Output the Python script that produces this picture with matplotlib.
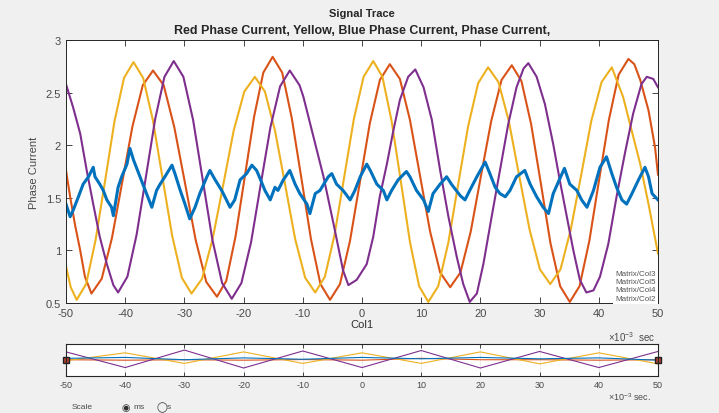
import matplotlib
matplotlib.use("Agg")
import matplotlib.pyplot as plt

plt.rcParams['font.family'] = ['Liberation Sans', 'DejaVu Sans']
plt.rcParams['mathtext.fontset'] = 'custom'
plt.rcParams['mathtext.rm'] = 'Liberation Sans'
plt.rcParams['axes.unicode_minus'] = False

# yellow trace (Matrix/Col3)
t_yellow = [-50, -49.2, -48.2, -46.6, -45.0, -43.4, -41.8, -40.2, -38.6, -36.97, -35.33, -33.7, -32.07,
            -30.43, -28.8, -27.02, -25.23, -23.45, -21.67, -19.88, -18.1, -16.4, -14.7, -13.0, -11.3, -9.6,
            -7.9, -6.27, -4.63, -3.0, -1.37, 0.27, 1.9, 3.45, 5.0, 6.55, 8.1, 9.65, 11.2, 12.88, 14.57,
            16.25, 17.93, 19.62, 21.3, 23.05, 24.8, 26.55, 28.3, 30.05, 31.8, 33.53, 35.27, 37.0, 38.73,
            40.47, 42.2, 44.1, 45.55, 47.0, 48.4, 50]
v_yellow = [0.85, 0.65, 0.53, 0.68, 1.10, 1.66, 2.23, 2.64, 2.79, 2.64, 2.24, 1.69, 1.14, 0.74, 0.59,
            0.73, 1.11, 1.62, 2.14, 2.51, 2.65, 2.51, 2.14, 1.63, 1.11, 0.74, 0.60, 0.75, 1.15, 1.70, 2.25,
            2.65, 2.80, 2.65, 2.23, 1.66, 1.08, 0.66, 0.51, 0.66, 1.07, 1.63, 2.18, 2.59, 2.74, 2.60, 2.23,
            1.71, 1.20, 0.82, 0.68, 0.82, 1.20, 1.71, 2.23, 2.60, 2.74, 2.46, 2.14, 1.82, 1.44, 0.97]

# orange trace (Matrix/Col5)
t_orange = [-50, -49.3, -48.5, -47.6, -46.8, -45.7, -43.97, -42.23, -40.5, -38.77, -37.03, -35.3, -33.5,
            -31.7, -29.9, -28.1, -26.3, -24.5, -22.93, -21.37, -19.8, -18.23, -16.67, -15.1, -13.48, -11.87,
            -10.25, -8.63, -7.02, -5.4, -3.72, -2.03, -0.35, 1.33, 3.02, 4.7, 6.4, 8.1, 9.8, 11.5, 13.2,
            14.9, 16.63, 18.37, 20.1, 21.83, 23.57, 25.3, 26.93, 28.57, 30.2, 31.83, 33.47, 35.1, 36.75,
            38.4, 40.05, 41.7, 43.35, 45.0, 46.0, 47.0, 48.4, 49.5, 50]
v_orange = [1.76, 1.51, 1.25, 1.00, 0.75, 0.59, 0.73, 1.12, 1.65, 2.18, 2.57, 2.71, 2.57, 2.17, 1.64,
            1.10, 0.70, 0.56, 0.71, 1.13, 1.70, 2.27, 2.69, 2.84, 2.69, 2.26, 1.69, 1.11, 0.68, 0.53, 0.68,
            1.09, 1.65, 2.21, 2.62, 2.77, 2.63, 2.24, 1.71, 1.18, 0.79, 0.65, 0.79, 1.18, 1.71, 2.23, 2.62,
            2.76, 2.61, 2.20, 1.64, 1.07, 0.66, 0.51, 0.66, 1.09, 1.67, 2.24, 2.67, 2.82, 2.77, 2.62, 2.33,
            1.98, 1.72]

# purple trace (Matrix/Col4)
t_purple = [-50, -48.8, -47.6, -46.5, -45.4, -44.3, -43.1, -42.0, -41.2, -39.63, -38.07, -36.5, -34.93,
            -33.37, -31.8, -30.17, -28.53, -26.9, -25.27, -23.63, -22.0, -20.37, -18.73, -17.1, -15.47,
            -13.83, -12.2, -10.55, -9.9, -8.2, -6.5, -4.8, -3.2, -2.3, -0.9, 0.8, 1.9, 3.0, 4.2, 5.3, 6.4,
            7.8, 9.0, 10.4, 11.8, 13.2, 14.6, 16.0, 17.1, 18.2, 19.4, 20.5, 21.9, 23.3, 24.7, 26.1, 27.3,
            28.1, 29.5, 30.9, 32.3, 33.5, 34.6, 35.7, 36.8, 37.9, 39.1, 40.2, 41.6, 43.0, 44.4, 45.8, 47.2,
            48.1, 49.2, 50]
v_purple = [2.58, 2.36, 2.11, 1.76, 1.44, 1.13, 0.87, 0.67, 0.60, 0.75, 1.15, 1.70, 2.25, 2.65, 2.80,
            2.65, 2.24, 1.67, 1.10, 0.69, 0.54, 0.69, 1.08, 1.63, 2.17, 2.56, 2.71, 2.57, 2.46, 2.08, 1.70,
            1.25, 0.81, 0.67, 0.72, 0.87, 1.13, 1.51, 1.82, 2.14, 2.43, 2.65, 2.72, 2.55, 2.24, 1.76, 1.32,
            0.94, 0.68, 0.51, 0.59, 0.87, 1.32, 1.76, 2.20, 2.55, 2.73, 2.78, 2.65, 2.39, 2.01, 1.64, 1.32,
            1.00, 0.72, 0.60, 0.62, 0.75, 1.06, 1.51, 1.92, 2.30, 2.58, 2.65, 2.63, 2.55]

# blue trace (Matrix/Col2), noisy
t_blue = [-50, -49.3, -48.8, -47.9, -47.1, -46.2, -45.4, -45.1, -44.3, -43.7, -43.1, -42.3, -42.0, -41.2,
          -40.6, -39.7, -39.2, -38.6, -37.5, -36.4, -35.5, -34.7, -34.1, -33.3, -32.1, -31.6, -30.7, -29.9,
          -29.1, -28.2, -27.4, -26.2, -25.7, -24.8, -23.7, -22.9, -22.3, -21.5, -20.6, -19.5, -18.6, -17.8,
          -17.2, -16.4, -15.5, -14.7, -14.2, -13.3, -12.2, -11.3, -10.5, -9.3, -8.8, -7.9, -7.1, -5.7,
          -5.1, -4.3, -3.2, -2.0, -1.2, -0.3, 0.8, 1.4, 2.5, 3.6, 4.2, 5.0, 6.1, 7.5, 8.1, 9.2, 10.4,
          11.2, 12.0, 13.2, 14.3, 15.1, 16.6, 17.4, 18.2, 19.4, 20.8, 21.6, 22.5, 23.3, 24.2, 25.0, 26.1,
          27.5, 28.4, 29.5, 30.6, 31.5, 32.3, 33.4, 34.2, 35.1, 36.3, 37.1, 38.0, 39.1, 40.2, 41.3, 42.2,
          43.0, 43.9, 44.7, 45.6, 46.7, 47.8, 48.4, 49.0, 50]
v_blue = [1.44, 1.32, 1.38, 1.51, 1.63, 1.70, 1.79, 1.70, 1.63, 1.57, 1.48, 1.41, 1.33, 1.60, 1.70, 1.82,
          1.97, 1.86, 1.70, 1.54, 1.41, 1.57, 1.63, 1.70, 1.81, 1.73, 1.57, 1.44, 1.30, 1.41, 1.54, 1.70,
          1.76, 1.67, 1.57, 1.48, 1.41, 1.48, 1.67, 1.73, 1.81, 1.76, 1.68, 1.57, 1.48, 1.60, 1.57, 1.67,
          1.76, 1.63, 1.54, 1.44, 1.35, 1.54, 1.57, 1.70, 1.73, 1.63, 1.57, 1.48, 1.57, 1.70, 1.82, 1.76,
          1.63, 1.57, 1.48, 1.57, 1.67, 1.75, 1.70, 1.57, 1.48, 1.37, 1.54, 1.63, 1.70, 1.63, 1.52, 1.48,
          1.57, 1.70, 1.84, 1.73, 1.60, 1.54, 1.51, 1.57, 1.70, 1.76, 1.63, 1.51, 1.41, 1.35, 1.54, 1.68,
          1.78, 1.63, 1.57, 1.48, 1.41, 1.57, 1.79, 1.89, 1.73, 1.60, 1.48, 1.44, 1.54, 1.67, 1.79, 1.70,
          1.54, 1.48]

# panner (overview strip) traces, coarse
t_pan = [-50, -40, -30, -20, -10, 0, 10, 20, 30, 40, 50]
p_purple = [2.45, 0.75, 2.65, 0.70, 2.55, 0.75, 2.60, 0.70, 2.50, 0.75, 2.50]
p_yellow = [1.50, 2.35, 1.20, 2.45, 1.20, 2.35, 1.20, 2.45, 1.15, 2.35, 1.15]
p_orange = [1.60, 1.55, 1.60, 1.55, 1.62, 1.55, 1.75, 1.60, 1.60, 1.55, 1.60]
p_blue = [1.75, 1.85, 1.60, 1.80, 1.65, 1.85, 1.70, 1.85, 1.70, 1.80, 1.55]

legend_labels = ['Matrix/Col3', 'Matrix/Col5', 'Matrix/Col4', 'Matrix/Col2']
xticks = [-50, -40, -30, -20, -10, 0, 10, 20, 30, 40, 50]
yticks = [0.5, 1, 1.5, 2, 2.5, 3]
ylabels = ['0.5', '1', '1.5', '2', '2.5', '3']

c_blue = '#0072BD'
c_orange = '#D95319'
c_yellow = '#EDB120'
c_purple = '#7E2F8E'
grey = '#4a4a4a'

fig = plt.figure(figsize=(7.19, 4.14), dpi=100, facecolor='#f0f0f0')

# main axes
ax = fig.add_axes([66 / 719, 110 / 414, 592 / 719, 263 / 414])
ax.plot(t_orange, v_orange, color=c_orange, lw=1.5)
ax.plot(t_yellow, v_yellow, color=c_yellow, lw=1.5)
ax.plot(t_purple, v_purple, color=c_purple, lw=1.5)
ax.plot(t_blue, v_blue, color=c_blue, lw=2.2)
ax.set_xlim(-50, 50)
ax.set_ylim(0.5, 3)
ax.set_xticks(xticks)
ax.set_yticks(yticks)
ax.set_yticklabels(ylabels)
ax.tick_params(direction='in', top=True, right=True, length=4, width=0.6,
               labelsize=8, labelcolor=grey, color='#262626')
for s in ax.spines.values():
    s.set_color('#262626')
    s.set_linewidth(0.7)
ax.set_ylabel('Phase Current', fontsize=8, color=grey, labelpad=5)
ax.set_xlabel('Col1', fontsize=8, color='#303030', labelpad=1)
ax.text(0.996, 0.005, '\n'.join(legend_labels), transform=ax.transAxes, ha='right', va='bottom',
        fontsize=5.8, color='#555555', linespacing=1.25,
        bbox=dict(facecolor='white', edgecolor='none', pad=1.5))

fig.text(362 / 719, 1 - 14 / 414, 'Signal Trace', ha='center', va='center', fontsize=8,
         fontweight='bold', color='#262626')
fig.text(362 / 719, 1 - 31 / 414, 'Red Phase Current, Yellow, Blue Phase Current, Phase Current,',
         ha='center', va='center', fontsize=9, fontweight='bold', color='#262626')
fig.text(608 / 719, 1 - 337 / 414, r'$\times10^{-3}$  sec', ha='left', va='center', fontsize=7,
         color=grey)

# panner strip
axp = fig.add_axes([66 / 719, 37 / 414, 592 / 719, 32 / 414])
axp.plot(t_pan, p_orange, color=c_orange, lw=0.8)
axp.plot(t_pan, p_yellow, color=c_yellow, lw=0.8)
axp.plot(t_pan, p_purple, color=c_purple, lw=0.8)
axp.plot(t_pan, p_blue, color=c_blue, lw=0.8)
axp.plot([-50, 50], [1.62, 1.62], ls='none', marker='s', ms=4, mfc='#b04030', mec='#202020', mew=1,
         clip_on=False)
axp.set_xlim(-50, 50)
axp.set_ylim(-0.17, 3.31)
axp.set_xticks(xticks)
axp.set_yticks([])
axp.grid(axis='x', color='#e8e8e8', lw=0.6)
axp.tick_params(direction='in', top=True, length=3, width=0.6, labelsize=6.5, labelcolor=grey,
                color='#262626', pad=3)
for s in axp.spines.values():
    s.set_color('#262626')
    s.set_linewidth(0.8)
fig.text(608 / 719, 1 - 397 / 414, r'$\times10^{-3}$ sec.', ha='left', va='center', fontsize=6.5,
         color=grey)

# scale selector
ys = 1 - 408 / 414
fig.text(72 / 719, ys, 'Scale', ha='left', va='center', fontsize=6, color=grey)
fig.text(121 / 719, ys, '\u25c9', ha='left', va='center', fontsize=7, color='#303030',
         family='DejaVu Sans')
fig.text(133 / 719, ys, 'ms', ha='left', va='center', fontsize=6, color=grey)
fig.text(156 / 719, ys, '\u25ef', ha='left', va='center', fontsize=7, color='#303030',
         family='DejaVu Sans')
fig.text(167 / 719, ys, 's', ha='left', va='center', fontsize=6, color=grey)

fig.savefig('out.png', dpi=100, facecolor=fig.get_facecolor())
